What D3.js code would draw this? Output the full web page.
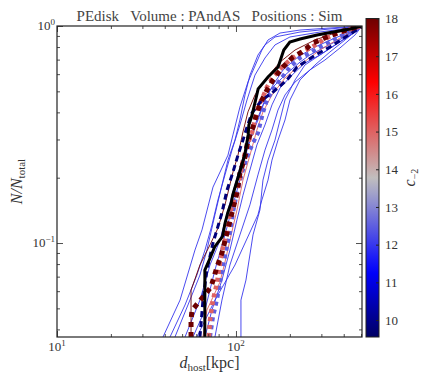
<!DOCTYPE html>
<html>
<head>
<meta charset="utf-8">
<script src="https://cdn.jsdelivr.net/npm/d3@7"></script>
<style>
  body { margin: 0; background: #fff; }
  svg { display: block; font-family: "Liberation Serif", serif; }
</style>
</head>
<body>
<div class="chart"></div>
<script>
"use strict";

// DATA ----------------------------
// observed satellites (black)
const obsDist = [67, 67, 72, 76, 84, 87, 90, 94, 96, 105, 112, 117, 118, 123, 128, 133, 151, 172, 181, 185, 200, 228, 284, 349, 434, 506];
const obsFrac = [0.0369, 0.075, 0.086, 0.096, 0.107, 0.124, 0.138, 0.153, 0.167, 0.213, 0.255, 0.315, 0.35, 0.389, 0.447, 0.513, 0.582, 0.647, 0.735, 0.775, 0.844, 0.871, 0.909, 0.938, 0.969, 1];

// thin simulated realisations
const thinC = [12, 12, 12, 12, 12, 12, 12, 12, 12, 18, 15];
const thinDist = [
  [39.1, 48.7, 59.0, 64.6, 74.4, 90.2, 96.2, 105.2, 116.7, 127.7, 139.6, 151.0, 176.2, 227.9, 335.0, 506],
  [42.8, 51.9, 60.5, 67.1, 73.4, 79.3, 86.8, 95.0, 105.2, 115.2, 127.7, 145.2, 165.2, 200.3, 294.4, 433.7, 506],
  [106.6, 106.6, 113.7, 124.5, 136.1, 141.5, 151.0, 165.2, 176.2, 187.9, 213.8, 242.7, 294.4, 357.3, 433.7, 506],
  [60.5, 76.3, 98.7, 132.7, 139.6, 151.0, 158.9, 171.7, 187.9, 200.3, 227.9, 276.1, 335.0, 406.4, 506],
  [51.9, 62.9, 71.6, 81.4, 90.2, 98.7, 108.1, 119.7, 132.7, 145.2, 161.1, 183.2, 221.8, 276.1, 357.3, 462.4, 506],
  [67.1, 73.4, 83.5, 92.5, 101.3, 109.4, 119.7, 130.9, 145.2, 158.9, 176.2, 205.6, 242.7, 294.4, 381.1, 480.8, 506],
  [57.5, 67.1, 76.3, 86.8, 96.2, 105.2, 115.2, 127.7, 141.5, 154.9, 187.9, 227.9, 258.8, 314.1, 406.4, 506],
  [45.6, 55.3, 62.9, 68.8, 76.3, 83.5, 90.2, 98.7, 105.2, 112.3, 119.7, 132.7, 145.2, 165.2, 227.9, 335.0, 506],
  [76.3, 83.5, 92.5, 105.2, 119.7, 132.7, 145.2, 158.9, 171.7, 187.9, 213.8, 258.8, 314.1, 381.1, 462.4, 506],
  [56.1, 56.1, 62.9, 71.6, 79.3, 86.8, 96.2, 102.6, 109.4, 116.7, 127.7, 145.2, 176.2, 213.8, 276.1, 357.3, 462.4, 506],
  [65.4, 68.8, 81.4, 86.8, 92.5, 101.3, 109.4, 119.7, 130.9, 141.5, 158.9, 187.9, 227.9, 294.4, 381.1, 480.8, 506]
];
const thinFrac = [
  [0.0369, 0.0546, 0.0928, 0.115, 0.181, 0.254, 0.315, 0.423, 0.552, 0.654, 0.775, 0.862, 0.928, 0.958, 0.979, 1],
  [0.0369, 0.0518, 0.0712, 0.0928, 0.121, 0.158, 0.206, 0.268, 0.35, 0.456, 0.594, 0.712, 0.818, 0.89, 0.938, 0.979, 1],
  [0.0369, 0.0546, 0.0675, 0.109, 0.142, 0.195, 0.241, 0.298, 0.369, 0.456, 0.564, 0.661, 0.735, 0.818, 0.909, 1],
  [0.0369, 0.0546, 0.0792, 0.135, 0.158, 0.195, 0.241, 0.298, 0.369, 0.456, 0.564, 0.661, 0.759, 0.862, 1],
  [0.0369, 0.0546, 0.0792, 0.103, 0.142, 0.185, 0.241, 0.298, 0.369, 0.456, 0.535, 0.627, 0.72, 0.8, 0.88, 0.958, 1],
  [0.0369, 0.0491, 0.0675, 0.0928, 0.128, 0.166, 0.217, 0.283, 0.35, 0.433, 0.518, 0.594, 0.675, 0.735, 0.844, 0.958, 1],
  [0.0369, 0.0491, 0.0751, 0.109, 0.15, 0.195, 0.268, 0.35, 0.433, 0.507, 0.594, 0.682, 0.735, 0.8, 0.89, 1],
  [0.0369, 0.0546, 0.0712, 0.0928, 0.135, 0.185, 0.241, 0.298, 0.369, 0.481, 0.594, 0.735, 0.818, 0.89, 0.938, 0.969, 1],
  [0.0369, 0.0546, 0.0792, 0.109, 0.15, 0.206, 0.268, 0.332, 0.41, 0.481, 0.552, 0.627, 0.697, 0.792, 0.909, 1],
  [0.0369, 0.0607, 0.0792, 0.0981, 0.117, 0.15, 0.212, 0.254, 0.325, 0.402, 0.481, 0.564, 0.682, 0.775, 0.862, 0.928, 0.979, 1],
  [0.0369, 0.0491, 0.0661, 0.0817, 0.103, 0.142, 0.195, 0.254, 0.332, 0.402, 0.481, 0.576, 0.661, 0.775, 0.88, 0.979, 1]
];

// best-fit models (thick)
const bestC = [12.5, 15, 9.8, 18];
const bestDist = [
  [71.6, 74.4, 78.3, 81.4, 84.6, 89.0, 92.5, 96.2, 101.3, 108.1, 115.2, 124.5, 132.7, 141.5, 149.0, 161.1, 176.2, 200.3, 227.9, 258.8, 294.4, 348.6, 416.9, 474.3, 506],
  [70.6, 71.6, 74.4, 78.3, 81.4, 84.6, 89.0, 92.5, 98.7, 105.2, 109.4, 116.7, 122.8, 127.7, 132.7, 141.5, 149.0, 161.1, 180.8, 200.3, 227.9, 266.1, 306.2, 348.6, 416.9, 480.8, 506],
  [62.9, 65.4, 68.8, 74.4, 78.3, 83.5, 89.0, 96.2, 102.6, 109.4, 115.2, 122.8, 139.6, 161.1, 192.8, 219.2, 283.6, 335.0, 416.9, 493.0, 506],
  [56.1, 56.1, 56.8, 62.1, 72.5, 78.3, 83.5, 89.0, 95.0, 101.3, 105.2, 112.3, 116.7, 124.5, 130.9, 139.6, 149.0, 161.1, 171.7, 183.2, 208.0, 233.9, 269.2, 322.1, 381.1, 450.8, 506]
];
const bestFrac = [
  [0.0369, 0.0456, 0.0546, 0.0654, 0.0775, 0.0959, 0.111, 0.138, 0.17, 0.21, 0.249, 0.289, 0.321, 0.397, 0.456, 0.507, 0.564, 0.647, 0.712, 0.751, 0.8, 0.862, 0.928, 0.979, 1],
  [0.0369, 0.0442, 0.0546, 0.0654, 0.0809, 0.0959, 0.111, 0.138, 0.163, 0.201, 0.241, 0.289, 0.321, 0.369, 0.423, 0.471, 0.524, 0.582, 0.647, 0.697, 0.751, 0.8, 0.862, 0.909, 0.958, 0.989, 1],
  [0.0369, 0.0546, 0.0751, 0.1, 0.115, 0.138, 0.175, 0.212, 0.254, 0.298, 0.342, 0.397, 0.456, 0.496, 0.564, 0.647, 0.743, 0.8, 0.899, 0.979, 1],
  [0.0369, 0.0442, 0.0491, 0.0535, 0.0627, 0.0775, 0.0899, 0.111, 0.138, 0.17, 0.21, 0.249, 0.298, 0.342, 0.397, 0.456, 0.507, 0.564, 0.607, 0.647, 0.72, 0.759, 0.835, 0.89, 0.938, 0.979, 1]
];

const xMajor = [10, 100];
const yMajor = [0.1, 1];
const cTicks = [10, 11, 12, 13, 14, 15, 16, 17, 18];

// LAYOUT ----------------------------
const MARGIN = { top: 26, right: 74, bottom: 37, left: 57 };
const WIDTH = 436 - MARGIN.left - MARGIN.right,
  HEIGHT = 374 - MARGIN.top - MARGIN.bottom;

const BEST_STYLE = [
  { dash: "4,4", width: 4 },
  { dash: "4,4", width: 4.5 },
  { dash: "6,4", width: 3 },
  { dash: "5,5", width: 5 }
];

const svgRoot = d3
  .select(".chart")
  .append("svg")
  .attr("width", 436)
  .attr("height", 374);

const svg = svgRoot
  .append("g")
  .attr("transform", `translate(${MARGIN.left},${MARGIN.top})`);

// scales
const xScale = d3.scaleLog().domain([10, 506]).range([0, WIDTH]);
const yScale = d3.scaleLog().domain([0.0369, 1]).range([HEIGHT, 0]);
const color = d3
  .scaleLinear()
  .domain([9.55, 11.3, 13.75, 16.3, 18])
  .range(["#000064", "#0000ff", "#c0c0c0", "#ff0000", "#6e0000"]);

svg
  .append("clipPath")
  .attr("id", "clip")
  .append("rect")
  .attr("width", WIDTH)
  .attr("height", HEIGHT);

const line = d3
  .line()
  .x((d) => xScale(d[0]))
  .y((d) => yScale(d[1]));

const plot = svg.append("g").attr("clip-path", "url(#clip)");

// thin curves
plot
  .selectAll(".thin")
  .data(thinDist.map((ds, i) => ({ c: thinC[i], pts: d3.zip(ds, thinFrac[i]) })))
  .enter()
  .append("path")
  .attr("class", "thin")
  .attr("d", (d) => line(d.pts))
  .attr("fill", "none")
  .attr("stroke", (d) => color(d.c))
  .attr("stroke-width", 0.9);

// thick curves
plot
  .selectAll(".best")
  .data(bestDist.map((ds, i) => ({ c: bestC[i], pts: d3.zip(ds, bestFrac[i]), s: BEST_STYLE[i] })))
  .enter()
  .append("path")
  .attr("class", "best")
  .attr("d", (d) => line(d.pts))
  .attr("fill", "none")
  .attr("stroke", (d) => color(d.c))
  .attr("stroke-width", (d) => d.s.width)
  .attr("stroke-dasharray", (d) => d.s.dash);

// observed
plot
  .append("path")
  .attr("d", line(d3.zip(obsDist, obsFrac)))
  .attr("fill", "none")
  .attr("stroke", "#000")
  .attr("stroke-width", 3);

// AXES ----------------------------
const xTicks = xScale.ticks();
const yTicks = yScale.ticks();
const isMajor = (v) => Math.abs(Math.log10(v) - Math.round(Math.log10(v))) < 1e-6;

function tickAxis(axisFn, scale, ticks, size) {
  return axisFn(scale).tickValues(ticks).tickSize(-size).tickFormat("");
}

const axes = [
  { fn: d3.axisBottom, s: xScale, t: xTicks, tr: `translate(0,${HEIGHT})` },
  { fn: d3.axisTop, s: xScale, t: xTicks, tr: "translate(0,0)" },
  { fn: d3.axisLeft, s: yScale, t: yTicks, tr: "translate(0,0)" },
  { fn: d3.axisRight, s: yScale, t: yTicks, tr: `translate(${WIDTH},0)` }
];
axes.forEach((a) => {
  svg.append("g").attr("transform", a.tr).call(tickAxis(a.fn, a.s, a.t.filter((v) => !isMajor(v)), 3));
  svg.append("g").attr("transform", a.tr).call(tickAxis(a.fn, a.s, a.t.filter(isMajor), 6));
});
svg.selectAll(".domain").remove();
svg.selectAll(".tick line").attr("stroke", "#222").attr("stroke-width", 0.8);

svg
  .append("rect")
  .attr("width", WIDTH)
  .attr("height", HEIGHT)
  .attr("fill", "none")
  .attr("stroke", "#222")
  .attr("stroke-width", 1.2);

function powLabel(sel, exp) {
  sel.append("tspan").text("10");
  sel
    .append("tspan")
    .attr("dy", -5)
    .attr("font-size", 9)
    .text(exp);
}

xMajor.forEach((v) => {
  svg
    .append("text")
    .attr("x", xScale(v))
    .attr("y", HEIGHT + 14)
    .attr("text-anchor", "middle")
    .attr("font-size", 13)
    .attr("fill", "#333")
    .call(powLabel, Math.round(Math.log10(v)));
});

yMajor.forEach((v) => {
  svg
    .append("text")
    .attr("x", -2)
    .attr("y", yScale(v) + 4)
    .attr("text-anchor", "end")
    .attr("font-size", 13)
    .attr("fill", "#333")
    .call(powLabel, Math.round(Math.log10(v)) === 0 ? "0" : "\u22121");
});

// titles
svgRoot
  .append("text")
  .attr("x", MARGIN.left + WIDTH / 2)
  .attr("y", 21)
  .attr("text-anchor", "middle")
  .attr("font-size", 15)
  .attr("fill", "#444")
  .text("PEdisk\u00a0\u00a0\u00a0Volume : PAndAS\u00a0\u00a0\u00a0Positions : Sim");

const xl = svgRoot
  .append("text")
  .attr("x", MARGIN.left + WIDTH / 2)
  .attr("y", 368)
  .attr("text-anchor", "middle")
  .attr("font-size", 16)
  .attr("fill", "#333");
xl.append("tspan").attr("font-style", "italic").text("d");
xl.append("tspan").attr("font-size", 11).attr("dy", 3).text("host");
xl.append("tspan").attr("dy", -3).text("[kpc]");

const yl = svgRoot
  .append("text")
  .attr("transform", `translate(22,${MARGIN.top + HEIGHT / 2}) rotate(-90)`)
  .attr("text-anchor", "middle")
  .attr("font-size", 16)
  .attr("fill", "#333");
yl.append("tspan").attr("font-style", "italic").text("N/N");
yl.append("tspan").attr("font-size", 11).attr("dy", 3).text("total");

// COLORBAR ----------------------------
const CB = { x: 366, top: 18.5, w: 13, bottom: MARGIN.top + HEIGHT };
const cScale = d3.scaleLinear().domain([9.55, 18]).range([CB.bottom, CB.top]);

const grad = svgRoot
  .append("defs")
  .append("linearGradient")
  .attr("id", "cbar")
  .attr("x1", 0)
  .attr("y1", 1)
  .attr("x2", 0)
  .attr("y2", 0);
grad
  .selectAll("stop")
  .data(d3.range(0, 1.0001, 0.05))
  .enter()
  .append("stop")
  .attr("offset", (d) => d)
  .attr("stop-color", (d) => color(9.55 + d * (18 - 9.55)));

svgRoot
  .append("rect")
  .attr("x", CB.x)
  .attr("y", CB.top)
  .attr("width", CB.w)
  .attr("height", CB.bottom - CB.top)
  .attr("fill", "url(#cbar)")
  .attr("stroke", "#222")
  .attr("stroke-width", 1);

const cAxis = svgRoot
  .append("g")
  .attr("transform", `translate(${CB.x + CB.w},0)`)
  .call(d3.axisRight(cScale).tickValues(cTicks).tickSize(-3).tickPadding(6));
cAxis.select(".domain").remove();
cAxis.selectAll(".tick line").attr("stroke", "#222");
cAxis
  .selectAll(".tick text")
  .attr("font-family", "Liberation Serif, serif")
  .attr("font-size", 13)
  .attr("fill", "#333");

const cl = svgRoot
  .append("text")
  .attr("transform", `translate(415,${MARGIN.top + HEIGHT / 2 - 4}) rotate(-90)`)
  .attr("text-anchor", "middle")
  .attr("font-size", 16)
  .attr("fill", "#333");
cl.append("tspan").attr("font-style", "italic").text("c");
cl.append("tspan").attr("font-size", 10).attr("dy", 3).text("\u22122");
</script>
</body>
</html>
